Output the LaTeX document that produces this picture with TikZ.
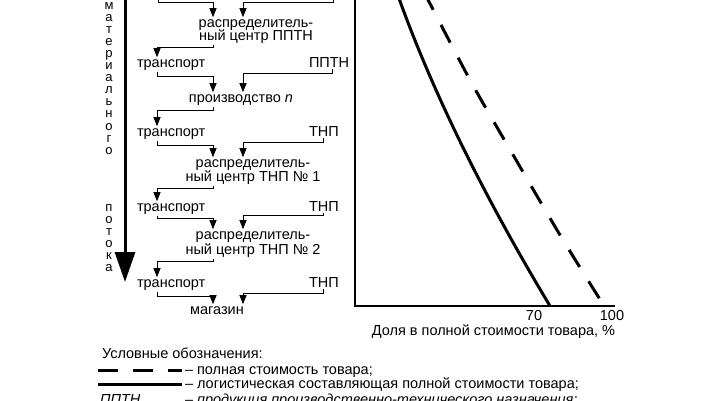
\documentclass[tikz,border=0pt]{standalone}
\usepackage{fontspec}
\setmainfont{Liberation Sans}
\usetikzlibrary{arrows.meta}
\begin{document}
\begin{tikzpicture}[x=1pt,y=-1pt,
  lbl/.style={inner sep=0pt, outer sep=2pt, font=\fontsize{14.5}{15}\selectfont},
  vtxt/.style={inner sep=0pt, align=center, font=\fontsize{13}{12.1}\selectfont, anchor=north},
  conn/.style={line width=0.9pt},
  arr/.style={conn, -{Triangle[length=9pt,width=7pt]}},
  bigarr/.style={line width=3pt, -{Triangle[length=30pt,width=20pt]}},
  axisline/.style={line width=1.1pt},
  solidcurve/.style={line width=3pt},
  dashcurve/.style={line width=3pt, dash pattern=on 20pt off 17pt},
]
\useasboundingbox (0,0) rectangle (716,400);
\clip (0,0) rectangle (716,400);

% helper columns
\coordinate (xl) at (157,0);
\coordinate (xm) at (213,0);
\coordinate (xr) at (243,0);
\coordinate (xq) at (332,0);

% big flow arrow
\coordinate (ftop) at (125,-5);
\coordinate (ftip) at (125,282);
\draw[bigarr] (ftop) -- (ftip);
\node[vtxt] (v1) at (109,2) {м\\а\\т\\е\\р\\и\\а\\л\\ь\\н\\о\\г\\о};
\node[vtxt] (v2) at (109,204) {п\\о\\т\\о\\к\\а};

% flow nodes
\node[lbl, anchor=base] (rc1a) at (256,27) {распределитель-};
\node[lbl, anchor=base] (rc1b) at (256,40) {ный центр ППТН};
\node[lbl, anchor=base west] (t1) at (135,67) {транспорт};
\node[lbl, anchor=base west] (p1) at (307,67) {ППТН};
\node[lbl, anchor=base] (pr) at (241,102) {производство \textit{n}};
\node[lbl, anchor=base west] (t2) at (135,136) {транспорт};
\node[lbl, anchor=base west] (p2) at (307,136) {ТНП};
\node[lbl, anchor=base] (rc2a) at (253,167) {распределитель-};
\node[lbl, anchor=base] (rc2b) at (253,181) {ный центр ТНП № 1};
\node[lbl, anchor=base west] (t3) at (135,211) {транспорт};
\node[lbl, anchor=base west] (p3) at (307,211) {ТНП};
\node[lbl, anchor=base] (rc3a) at (253,239) {распределитель-};
\node[lbl, anchor=base] (rc3b) at (253,254) {ный центр ТНП № 2};
\node[lbl, anchor=base west] (t4) at (135,287) {транспорт};
\node[lbl, anchor=base west] (p4) at (307,287) {ТНП};
\node[lbl, anchor=base] (mg) at (217,314) {магазин};

% top incoming connectors
\coordinate (tl) at (158,-5);
\coordinate (tr) at (333,-5);
\draw[arr] (tl) -- ++(0,7) -| (rc1a.north -| xm);
\draw[arr] (tr) -- ++(0,7) -| (rc1a.north -| xr);

% connectors
\draw[arr] (rc1b.south -| xm) -- ++(0,2) -| (t1.north -| xl);
\draw[arr] (t1.south -| xl) -- ++(0,4) -| (pr.north -| xm);
\draw[arr] (p1.south -| xq) -- ++(0,4) -| (pr.north -| xr);
\draw[arr] (pr.south -| xm) -- ++(0,3) -| (t2.north -| xl);
\draw[arr] (t2.south -| xl) -- ++(0,4) -| (rc2a.north -| xm);
\draw[arr] (p2.south) -- ++(0,4) -| (rc2a.north -| xr);
\draw[arr] (rc2b.south -| xm) -- ++(0,2) -| (t3.north -| xl);
\draw[arr] (t3.south -| xl) -- ++(0,2) -| (rc3a.north -| xm);
\draw[arr] (p3.south) -- ++(0,2) -| (rc3a.north -| xr);
\draw[arr] (rc3b.south -| xm) -- ++(0,2) -| (t4.north -| xl);
\draw[arr] (t4.south -| xl) -- ++(0,4) -| (mg.north -| xm);
\draw[arr] (p4.south) -- ++(0,4) -| (mg.north -| xr);

% plot
\coordinate (ytop) at (355,-5);
\coordinate (O) at (355,306);
\coordinate (xend) at (615,306);
\draw[axisline] (ytop) -- (O) -- (xend);
\coordinate (sA) at (396,-10);
\coordinate (sB) at (550,306);
\draw[solidcurve] (sA) .. controls (433,95) and (487,201) .. (sB);
\draw[dashcurve] plot[smooth] coordinates {(424,-8) (470,80) (512,153) (560,235) (606,309)};
\node[lbl, anchor=base] (l70) at (534,320) {70};
\node[lbl, anchor=base] (l100) at (612,320) {100};
\node[lbl, anchor=base] (xlab) at (493.5,335) {Доля в полной стоимости товара, \%};

% legend
\node[lbl, anchor=base west] (lg0) at (100,358) {Условные обозначения:};
\coordinate (d1a) at (98,370);
\coordinate (d1b) at (182,370);
\draw[line width=3pt, dash pattern=on 20pt off 15pt] (d1a) -- (d1b);
\node[lbl, anchor=base west] (lg1) at (183,374) {– полная стоимость товара;};
\coordinate (s1a) at (98,384);
\coordinate (s1b) at (182,384);
\draw[line width=3pt] (s1a) -- (s1b);
\node[lbl, anchor=base west] (lg2) at (183,388) {– логистическая составляющая полной стоимости товара;};
\node[lbl, anchor=base west] (lg3a) at (98,404) {\textit{ППТН}};
\node[lbl, anchor=base west] (lg3b) at (183,404) {– \textit{продукция производственно-технического назначения;}};
\end{tikzpicture}
\end{document}
